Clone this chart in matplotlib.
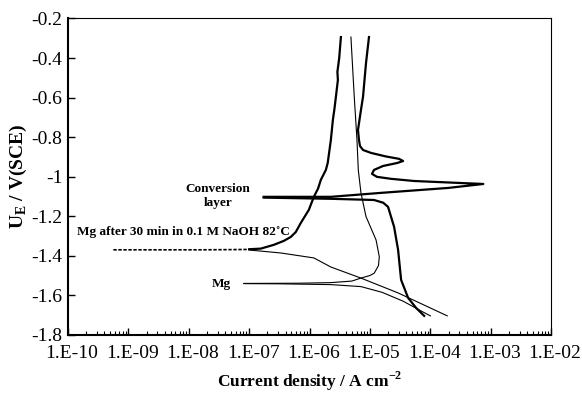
import numpy as np
import matplotlib.pyplot as plt
from matplotlib.ticker import FixedLocator, LogLocator, NullFormatter
from matplotlib.transforms import ScaledTranslation

plt.rcParams['font.family'] = ['Liberation Serif', 'DejaVu Serif']
plt.rcParams['mathtext.fontset'] = 'custom'
plt.rcParams['mathtext.rm'] = 'Liberation Serif'
plt.rcParams['mathtext.bf'] = 'Liberation Serif:bold'

# ---- data: (log10 current density, potential V) ----
# Mg, anodic branch (from Ecorr upward)
mg_an_logi = [-7.09, -6.20, -5.65, -5.30, -5.15, -5.00, -4.93, -4.86, -4.846, -4.90, -5.066, -5.15,
              -5.194, -5.216, -5.261, -5.316]
mg_an_u = [-1.540, -1.539, -1.536, -1.528, -1.513, -1.500, -1.488, -1.450, -1.405, -1.320, -1.202, -1.082,
           -0.966, -0.814, -0.595, -0.294]
# Mg, cathodic branch
mg_ca_logi = [-7.09, -6.50, -5.65, -5.15, -4.80, -4.45, -4.15, -4.00]
mg_ca_u = [-1.541, -1.542, -1.546, -1.556, -1.585, -1.630, -1.680, -1.704]

# Mg after 30 min in 0.1 M NaOH 82 C, near Ecorr (dashed part)
naoh_ec_logi = [-9.25, -8.50, -7.80, -7.30, -7.00]
naoh_ec_u = [-1.370, -1.370, -1.370, -1.369, -1.368]
# anodic branch
naoh_an_logi = [-7.00, -6.81, -6.595, -6.429, -6.312, -6.229, -6.146, -6.013, -5.930, -5.86, -5.814, -5.731,
                -5.70, -5.648, -5.615, -5.59, -5.565, -5.532, -5.54, -5.51, -5.482]
naoh_an_u = [-1.367, -1.364, -1.345, -1.325, -1.305, -1.280, -1.234, -1.168, -1.102, -1.060, -1.016, -0.966,
             -0.930, -0.814, -0.713, -0.660, -0.597, -0.511, -0.470, -0.400, -0.294]
# cathodic branch
naoh_ca_logi = [-7.00, -6.478, -5.930, -5.648, -5.150, -4.535, -3.721]
naoh_ca_u = [-1.371, -1.386, -1.411, -1.457, -1.513, -1.588, -1.704]

# Conversion layer, anodic branch (with the spike and the loop)
conv_an_logi = [-6.761, -5.648, -4.817, -3.704, -3.123, -4.269, -4.651, -4.884, -4.967, -4.934, -4.784,
                -4.551, -4.452, -4.518, -4.734, -4.983, -5.116, -5.166, -5.183, -5.199, -5.150, -5.116,
                -5.066, -5.017]
conv_an_u = [-1.102, -1.102, -1.082, -1.057, -1.037, -1.022, -1.011, -1.001, -0.986, -0.966, -0.946,
             -0.931, -0.921, -0.910, -0.898, -0.880, -0.865, -0.845, -0.814, -0.764, -0.663, -0.597,
             -0.425, -0.294]
# Conversion layer, cathodic branch
conv_ca_logi = [-6.761, -5.648, -4.934, -4.780, -4.701, -4.601, -4.535, -4.485, -4.369, -4.236, -4.103]
conv_ca_u = [-1.106, -1.112, -1.118, -1.132, -1.153, -1.254, -1.370, -1.522, -1.613, -1.664, -1.704]

x_ticks = [1e-10, 1e-9, 1e-8, 1e-7, 1e-6, 1e-5, 1e-4, 1e-3, 1e-2]
x_tick_labels = ['1.E-10', '1.E-09', '1.E-08', '1.E-07', '1.E-06', '1.E-05', '1.E-04', '1.E-03', '1.E-02']
y_ticks = [-0.2, -0.4, -0.6, -0.8, -1.0, -1.2, -1.4, -1.6, -1.8]
y_tick_labels = ['-0.2', '-0.4', '-0.6', '-0.8', '-1', '-1.2', '-1.4', '-1.6', '-1.8']


def to_current(logi):
    return np.power(10.0, np.array(logi))


fig = plt.figure(figsize=(5.82, 3.93), dpi=100)
ax = fig.add_axes([0.117, 0.148, 0.830, 0.805])

thin = 0.8
thick = 1.6

ax.plot(to_current(mg_an_logi), mg_an_u, color='black', lw=thin)
ax.plot(to_current(mg_ca_logi), mg_ca_u, color='black', lw=thin)

ax.plot(to_current(naoh_ec_logi), naoh_ec_u, color='black', lw=1.2, ls=(0, (2, 1)))
ax.plot(to_current(naoh_an_logi), naoh_an_u, color='black', lw=thick)
ax.plot(to_current(naoh_ca_logi), naoh_ca_u, color='black', lw=thin)

ax.plot(to_current(conv_an_logi), conv_an_u, color='black', lw=thick)
ax.plot(to_current(conv_ca_logi), conv_ca_u, color='black', lw=thick)

ax.set_xscale('log')
ax.set_xlim(1e-10, 1e-2)
ax.set_ylim(-1.8, -0.2)

ax.xaxis.set_major_locator(FixedLocator(x_ticks))
ax.set_xticklabels(x_tick_labels)
ax.xaxis.set_minor_locator(LogLocator(base=10, subs=np.arange(2, 10), numticks=20))
ax.xaxis.set_minor_formatter(NullFormatter())
ax.set_yticks(y_ticks)
ax.set_yticklabels(y_tick_labels)

ax.tick_params(axis='both', which='major', direction='in', length=5, width=1,
               labelsize=14, top=False, right=False)
ax.tick_params(axis='x', which='minor', direction='in', length=3, width=0.8, top=False)
ax.tick_params(axis='x', which='major', pad=7)
ax.tick_params(axis='y', which='major', pad=4)

# labels in the reference sit a little right of their ticks
shift = ScaledTranslation(4 / 100, 0, fig.dpi_scale_trans)
for lab in ax.get_xticklabels():
    lab.set_transform(lab.get_transform() + shift)

for side in ['left', 'bottom']:
    ax.spines[side].set_linewidth(1.5)
for side in ['top', 'right']:
    ax.spines[side].set_linewidth(0.8)

ax.set_xlabel('Current density / A cm$^{\\mathbf{-2}}$', fontsize=12.5, fontweight='bold', labelpad=6)
ax.set_ylabel('U$_{\\mathbf{E}}$ / V(SCE)', fontsize=14, fontweight='bold', labelpad=2)

ax.text(3.0e-8, -1.097, 'Conversion\nlayer', fontsize=9.5, fontweight='bold',
        ha='center', va='center', linespacing=1.25)
ax.text(8.1e-9, -1.28, 'Mg after 30 min in 0.1 M NaOH 82˚C', fontsize=9.5, fontweight='bold',
        ha='center', va='center')
ax.text(3.5e-8, -1.545, 'Mg', fontsize=9.5, fontweight='bold', ha='center', va='center')

fig.savefig('out.png', dpi=100)
